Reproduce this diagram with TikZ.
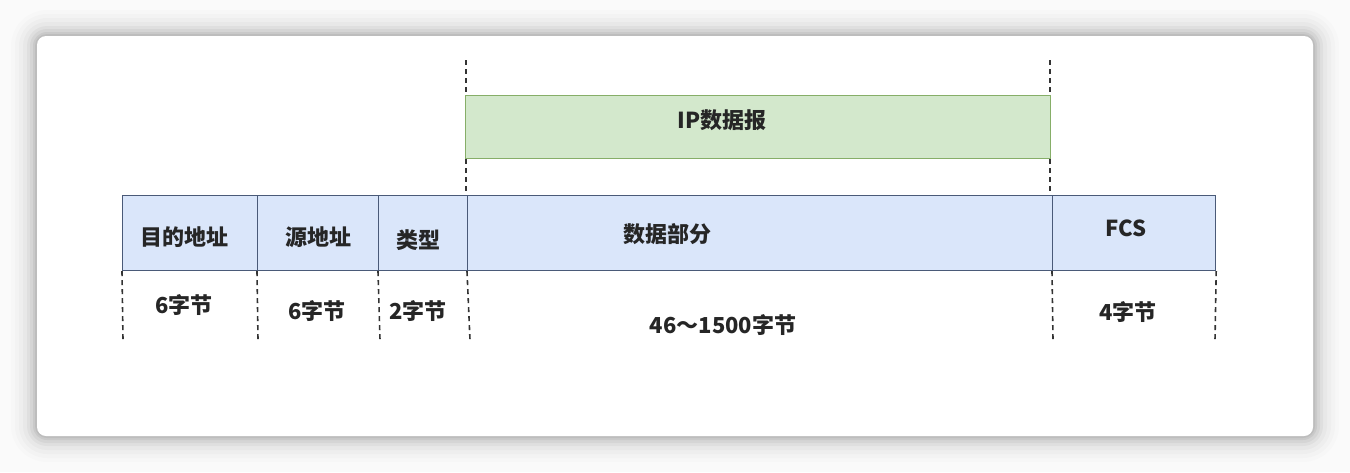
\documentclass[tikz,border=0pt]{standalone}
\usepackage{fontspec}
\setmainfont{Noto Sans CJK SC}
\definecolor{bluefill}{HTML}{DAE6FA}
\definecolor{blueline}{HTML}{4A5A78}
\definecolor{greenfill}{HTML}{D3E8CC}
\definecolor{greenline}{HTML}{86AE68}
\begin{document}
\begin{tikzpicture}[x=1pt,y=-1pt,
  field/.style={draw=blueline,line width=1.2pt,fill=bluefill,inner sep=0pt,anchor=north west},
  ipbox/.style={draw=greenline,line width=1.2pt,fill=greenfill,inner sep=0pt,anchor=north west},
  lbl/.style={font=\fontsize{22}{24}\selectfont\bfseries,text=black!85},
  guide/.style={draw=black!80,line width=1.6pt,dash pattern=on 5pt off 4pt}]
\useasboundingbox (0,0) rectangle (1350,472);
\fill[white!98!black] (0,0) rectangle (1350,472);
\foreach \i/\o in {26/0.012,22/0.015,18/0.02,14/0.025,10/0.035,7/0.045,4/0.055,2/0.06}
  \fill[black,opacity=\o,rounded corners=10+\i] (37-\i,36-\i) rectangle (1313+\i,436+\i);
\fill[white,rounded corners=9] (37,36) rectangle (1313,436) ;
% guides
\coordinate (t1) at (466,60); \coordinate (t2) at (1050,60);
\coordinate (b1) at (123,340); \coordinate (b2) at (258,340); \coordinate (b3) at (380,340);
\coordinate (b4) at (470,340); \coordinate (b5) at (1053,340); \coordinate (b6) at (1215,340);
\coordinate (u1) at (466,195); \coordinate (u2) at (1050,195);
\draw[guide] (t1) -- (u1);
\draw[guide] (t2) -- (u2);
% IP box
\node[ipbox,minimum width=585pt,minimum height=63pt] (ip) at (465,95) {};
\node[lbl] (iplbl) at (722,120) {IP数据报};
% fields
\node[field,minimum width=135pt,minimum height=75pt] (f1) at (122,195) {};
\node[field,minimum width=121pt,minimum height=75pt] (f2) at (257,195) {};
\node[field,minimum width=89pt,minimum height=75pt] (f3) at (378,195) {};
\node[field,minimum width=585pt,minimum height=75pt] (f4) at (467,195) {};
\node[field,minimum width=163pt,minimum height=75pt] (f5) at (1052,195) {};
\node[lbl] at (184,237) {目的地址};
\node[lbl] at (318,237) {源地址};
\node[lbl] at (418,240) {类型};
\node[lbl] at (667,234) {数据部分};
\node[lbl] at (1126,228) {FCS};
\draw[guide] (f1.south west) -- (b1);
\draw[guide] (f2.south west) -- (b2);
\draw[guide] (f3.south west) -- (b3);
\draw[guide] (f4.south west) -- (b4);
\draw[guide] (f5.south west) -- (b5);
\draw[guide] (f5.south east) -- (b6);
\node[lbl] at (184,305) {6字节};
\node[lbl] at (317,311) {6字节};
\node[lbl] at (418,311) {2字节};
\node[lbl] at (723,325) {46～1500字节};
\node[lbl] at (1128,312) {4字节};
\end{tikzpicture}
\end{document}
